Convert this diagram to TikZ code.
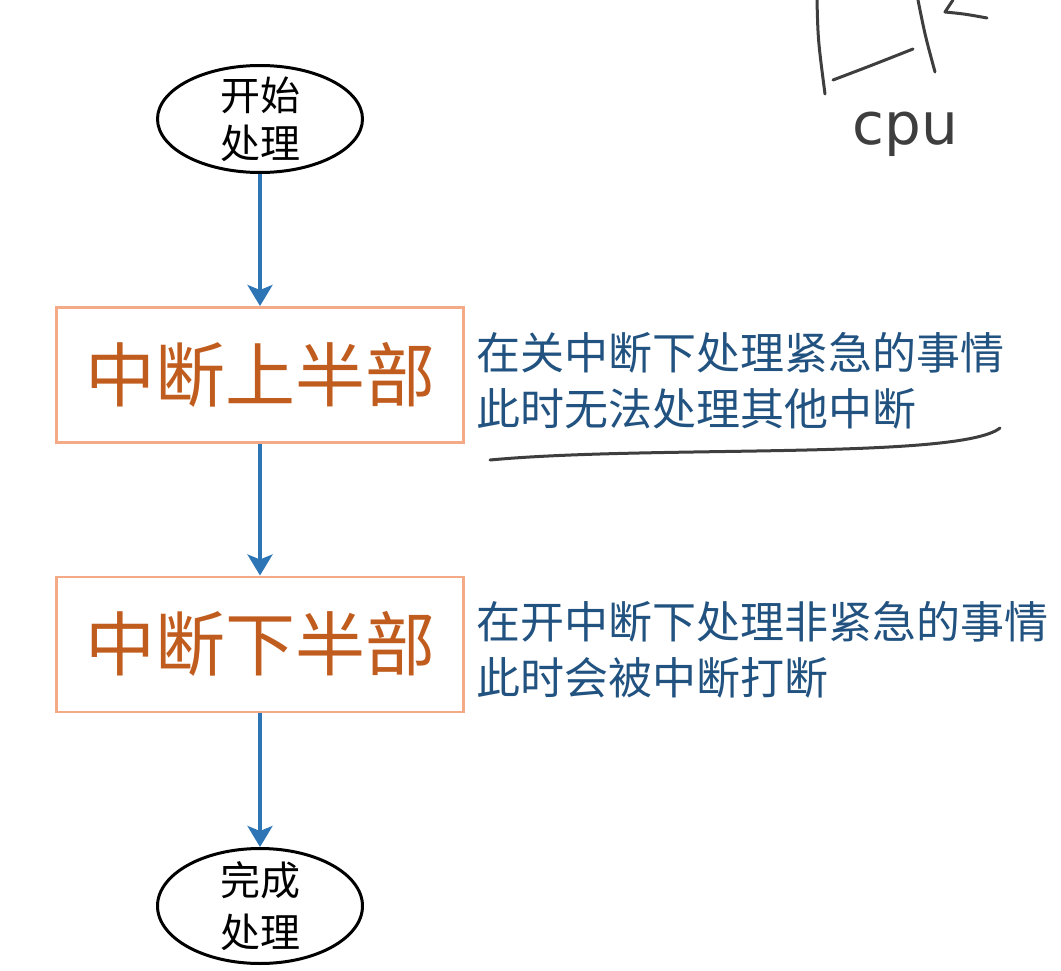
\documentclass[tikz,border=0pt]{standalone}
\usepackage{fontspec}
\newfontfamily\cjk{Noto Sans CJK SC}
\newfontfamily\scrawlfont{DejaVu Sans}
\usetikzlibrary{positioning,arrows.meta,shapes.geometric}
\definecolor{flowblue}{RGB}{46,117,182}
\definecolor{stageedge}{RGB}{244,170,135}
\definecolor{stagetext}{RGB}{192,92,30}
\definecolor{notetext}{RGB}{33,82,128}
\definecolor{pencil}{RGB}{62,62,62}
\tikzset{
flow/.style={node distance=132pt},
terminal/.style={ellipse,draw,line width=3pt,minimum width=205pt,minimum height=107pt,
inner sep=-12pt,align=center,font=\cjk\fontsize{40}{48}\selectfont},
stage/.style={rectangle,draw=stageedge,line width=2.5pt,minimum width=407pt,minimum height=135pt,
text=stagetext,font=\cjk\fontsize{70}{74}\selectfont},
note/.style={align=left,inner sep=0pt,yshift=-6pt,text=notetext,font=\cjk\fontsize{44}{56}\selectfont},
flowline/.style={-{Stealth[length=21pt,width=25pt,inset=5pt]},draw=flowblue,line width=3.5pt},
hand/.style={draw=pencil,line width=3pt,line cap=round,line join=round},
scrawl/.style={text=pencil,inner sep=0pt,font=\scrawlfont\fontsize{58}{58}\selectfont}
}
\begin{document}
\begin{tikzpicture}[flow,x=1pt,y=-1pt]
\useasboundingbox (0,0) rectangle (1061,971);

\node[terminal] (start) at (260,119) {开始\\处理};
\node[stage] (tophalf) [below=of start] {中断上半部};
\node[stage] (bottomhalf) [below=of tophalf] {中断下半部};
\node[terminal] (finish) [below=134pt of bottomhalf,minimum height=115pt,
  font=\cjk\fontsize{40}{52}\selectfont] {完成\\处理};

\node[note] (topnote) [right=12pt of tophalf] {在关中断下处理紧急的事情\\此时无法处理其他中断};
\node[note] (bottomnote) [right=12pt of bottomhalf] {在开中断下处理非紧急的事情\\此时会被中断打断};

\path (start) edge[flowline] (tophalf);
\path (tophalf) edge[flowline] (bottomhalf);
\path (bottomhalf) edge[flowline] (finish);

% pen marks
\draw[hand] (490,460) .. controls (650,445) and (960,460) .. (1000,428);
\draw[hand] (817,0) .. controls (818,40) .. (825,94);
\draw[hand] (833,80) .. controls (870,66) .. (913,49);
\draw[hand] (918,0) .. controls (925,35) .. (935,72);
\draw[hand] (953,0) -- (945,12) .. controls (965,14) .. (987,18);
\node[scrawl] (cpu) at (905,134) {cpu};

\end{tikzpicture}
\end{document}
